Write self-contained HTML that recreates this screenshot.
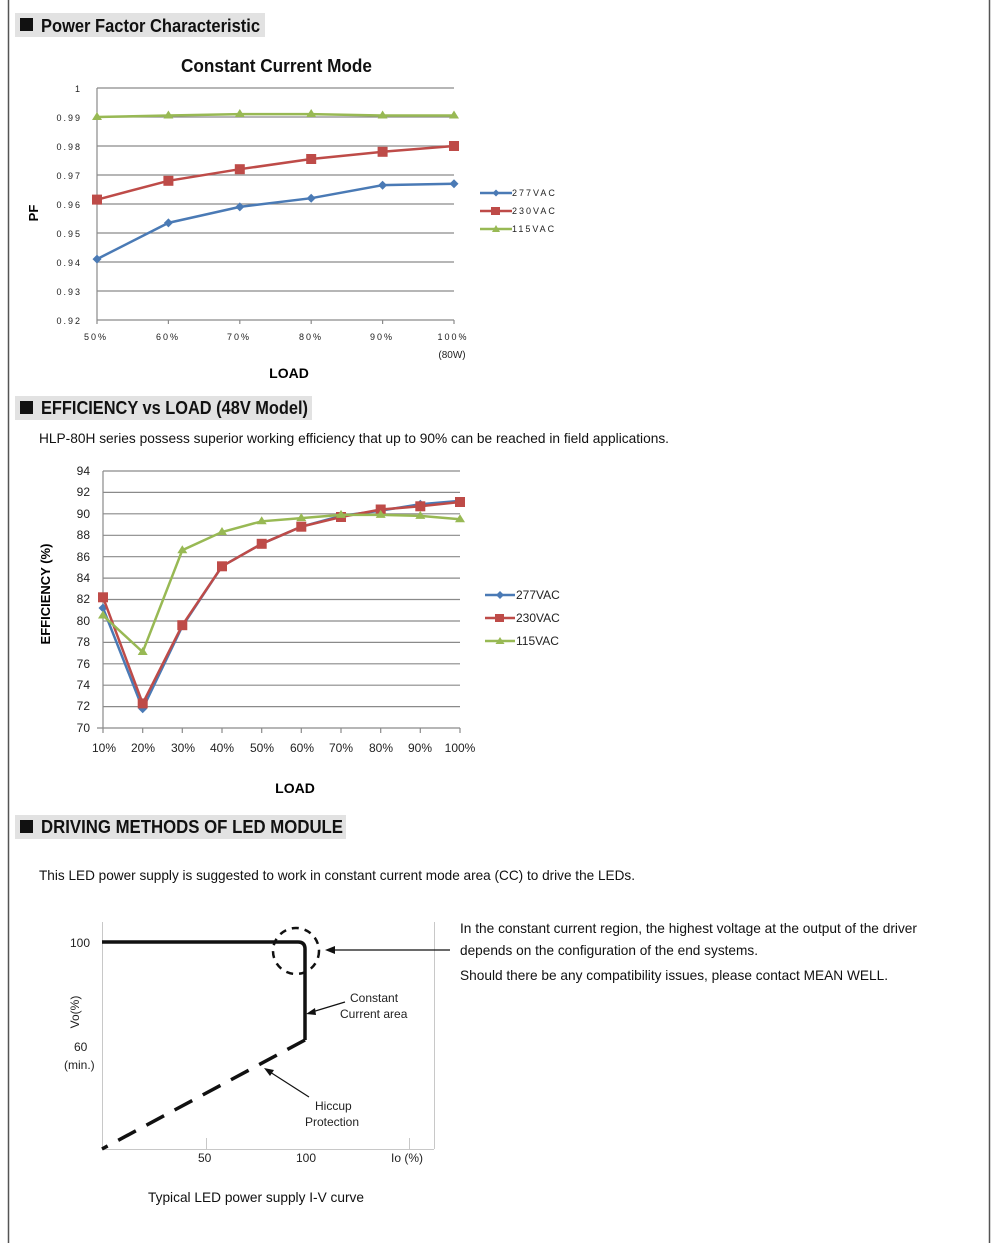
<!DOCTYPE html>
<html><head><meta charset="utf-8"><style>
body{margin:0;background:#fff;}
svg{display:block;font-family:"Liberation Sans",sans-serif;}
.hd{font-weight:bold;font-size:18px;fill:#111;}
.t{font-size:14px;fill:#111;}
.sp{font-size:9px;letter-spacing:2px;fill:#222;}
.g{stroke:#8a8a8a;stroke-width:1.2;}
</style></head><body>
<svg width="1000" height="1243" viewBox="0 0 1000 1243">
<line x1="8.5" y1="0" x2="8.5" y2="1243" stroke="#555" stroke-width="1.5"/>
<line x1="989.5" y1="0" x2="989.5" y2="1243" stroke="#555" stroke-width="1.5"/>

<rect x="15" y="13" width="250" height="24" fill="#e2e2e2"/>
<rect x="20" y="18" width="13" height="13" fill="#111"/>
<text x="41" y="32" class="hd" textLength="219" lengthAdjust="spacingAndGlyphs">Power Factor Characteristic</text>
<text x="181" y="72" class="hd" textLength="191" lengthAdjust="spacingAndGlyphs">Constant Current Mode</text>

<g class="g">
<line x1="97" y1="88" x2="454" y2="88"/><line x1="97" y1="117" x2="454" y2="117"/><line x1="97" y1="146" x2="454" y2="146"/><line x1="97" y1="175" x2="454" y2="175"/><line x1="97" y1="204" x2="454" y2="204"/><line x1="97" y1="233" x2="454" y2="233"/><line x1="97" y1="262" x2="454" y2="262"/><line x1="97" y1="291" x2="454" y2="291"/><line x1="97" y1="320" x2="454" y2="320"/>
<line x1="97" y1="88" x2="97" y2="324"/>
<line x1="168.4" y1="320" x2="168.4" y2="324"/><line x1="239.8" y1="320" x2="239.8" y2="324"/><line x1="311.2" y1="320" x2="311.2" y2="324"/><line x1="382.6" y1="320" x2="382.6" y2="324"/><line x1="454" y1="320" x2="454" y2="324"/>
</g>
<g class="sp" text-anchor="end">
<text x="82" y="92">1</text><text x="82" y="121">0.99</text><text x="82" y="150">0.98</text><text x="82" y="179">0.97</text><text x="82" y="208">0.96</text><text x="82" y="237">0.95</text><text x="82" y="266">0.94</text><text x="82" y="295">0.93</text><text x="82" y="324">0.92</text>
</g>
<g class="sp" text-anchor="middle">
<text x="96" y="340">50%</text><text x="168" y="340">60%</text><text x="239" y="340">70%</text><text x="311" y="340">80%</text><text x="382" y="340">90%</text><text x="453" y="340">100%</text>
</g>
<text x="452" y="358" text-anchor="middle" style="font-size:10px;fill:#222">(80W)</text>
<text x="289" y="378" text-anchor="middle" style="font-weight:bold;font-size:14px">LOAD</text>
<text x="38" y="213" text-anchor="middle" transform="rotate(-90 38 213)" style="font-weight:bold;font-size:13px">PF</text>

<polyline fill="none" stroke="#4a7ab5" stroke-width="2.5" points="97,259.1 168.4,222.85 239.8,206.9 311.2,198.2 382.6,185.15 454,183.7"/>
<g fill="#4a7ab5">
<path d="M97,254.6l4.5,4.5l-4.5,4.5l-4.5,-4.5z"/><path d="M168.4,218.4l4.5,4.5l-4.5,4.5l-4.5,-4.5z"/><path d="M239.8,202.4l4.5,4.5l-4.5,4.5l-4.5,-4.5z"/><path d="M311.2,193.7l4.5,4.5l-4.5,4.5l-4.5,-4.5z"/><path d="M382.6,180.7l4.5,4.5l-4.5,4.5l-4.5,-4.5z"/><path d="M454,179.2l4.5,4.5l-4.5,4.5l-4.5,-4.5z"/>
</g>
<polyline fill="none" stroke="#be4b48" stroke-width="2.5" points="97,199.65 168.4,180.8 239.8,169.2 311.2,159.05 382.6,151.8 454,146"/>
<g fill="#be4b48">
<rect x="92" y="194.6" width="10" height="10"/><rect x="163.4" y="175.8" width="10" height="10"/><rect x="234.8" y="164.2" width="10" height="10"/><rect x="306.2" y="154" width="10" height="10"/><rect x="377.6" y="146.8" width="10" height="10"/><rect x="449" y="141" width="10" height="10"/>
</g>
<polyline fill="none" stroke="#98b954" stroke-width="2.5" points="97,117 168.4,115.55 239.8,114.1 311.2,114.1 382.6,115.55 454,115.55"/>
<g fill="#98b954">
<path d="M97,112l5,8h-10z"/><path d="M168.4,110.5l5,8h-10z"/><path d="M239.8,109l5,8h-10z"/><path d="M311.2,109l5,8h-10z"/><path d="M382.6,110.5l5,8h-10z"/><path d="M454,110.5l5,8h-10z"/>
</g>
<line x1="480" y1="193" x2="512" y2="193" stroke="#4a7ab5" stroke-width="2.5"/><path d="M496,189.5l3.5,3.5l-3.5,3.5l-3.5,-3.5z" fill="#4a7ab5"/>
<line x1="480" y1="211" x2="512" y2="211" stroke="#be4b48" stroke-width="2.5"/><rect x="491" y="207" width="9" height="8" fill="#be4b48"/>
<line x1="480" y1="229" x2="512" y2="229" stroke="#98b954" stroke-width="2.5"/><path d="M496,225l4,7h-8z" fill="#98b954"/>
<g class="sp"><text x="512" y="196">277VAC</text><text x="512" y="214">230VAC</text><text x="512" y="232">115VAC</text></g>

<rect x="15" y="396" width="297" height="24" fill="#e2e2e2"/>
<rect x="20" y="401" width="13" height="13" fill="#111"/>
<text x="41" y="414" class="hd" textLength="267" lengthAdjust="spacingAndGlyphs">EFFICIENCY vs LOAD (48V Model)</text>
<text x="39" y="443" class="t" textLength="630" lengthAdjust="spacingAndGlyphs">HLP-80H series possess superior working efficiency that up to 90% can be reached in field applications.</text>

<g class="g">
<line x1="103" y1="471" x2="460" y2="471"/><line x1="103" y1="492.4" x2="460" y2="492.4"/><line x1="103" y1="513.8" x2="460" y2="513.8"/><line x1="103" y1="535.3" x2="460" y2="535.3"/><line x1="103" y1="556.7" x2="460" y2="556.7"/><line x1="103" y1="578.1" x2="460" y2="578.1"/><line x1="103" y1="599.5" x2="460" y2="599.5"/><line x1="103" y1="621" x2="460" y2="621"/><line x1="103" y1="642.4" x2="460" y2="642.4"/><line x1="103" y1="663.8" x2="460" y2="663.8"/><line x1="103" y1="685.2" x2="460" y2="685.2"/><line x1="103" y1="706.6" x2="460" y2="706.6"/><line x1="97" y1="728" x2="460" y2="728"/>
<line x1="103" y1="471" x2="103" y2="733"/>
<line x1="142.7" y1="728" x2="142.7" y2="733"/><line x1="182.3" y1="728" x2="182.3" y2="733"/><line x1="222" y1="728" x2="222" y2="733"/><line x1="261.7" y1="728" x2="261.7" y2="733"/><line x1="301.3" y1="728" x2="301.3" y2="733"/><line x1="341" y1="728" x2="341" y2="733"/><line x1="380.7" y1="728" x2="380.7" y2="733"/><line x1="420.3" y1="728" x2="420.3" y2="733"/><line x1="460" y1="728" x2="460" y2="733"/>
</g>
<g style="font-size:12px;fill:#222" text-anchor="end">
<text x="90" y="475">94</text><text x="90" y="496">92</text><text x="90" y="518">90</text><text x="90" y="539">88</text><text x="90" y="561">86</text><text x="90" y="582">84</text><text x="90" y="603">82</text><text x="90" y="625">80</text><text x="90" y="646">78</text><text x="90" y="668">76</text><text x="90" y="689">74</text><text x="90" y="710">72</text><text x="90" y="732">70</text>
</g>
<g style="font-size:12px;fill:#222" text-anchor="middle">
<text x="104" y="752">10%</text><text x="143" y="752">20%</text><text x="183" y="752">30%</text><text x="222" y="752">40%</text><text x="262" y="752">50%</text><text x="302" y="752">60%</text><text x="341" y="752">70%</text><text x="381" y="752">80%</text><text x="420" y="752">90%</text><text x="460" y="752">100%</text>
</g>
<text x="295" y="793" text-anchor="middle" style="font-weight:bold;font-size:14px">LOAD</text>
<text x="50" y="594" text-anchor="middle" transform="rotate(-90 50 594)" style="font-weight:bold;font-size:13px">EFFICIENCY (%)</text>

<polyline fill="none" stroke="#4a7ab5" stroke-width="2.5" points="103,608 142.7,708.7 182.3,626.3 222,566.3 261.7,543.8 301.3,526.7 341,515.9 380.7,510.6 420.3,504.2 460,500.9"/>
<g fill="#4a7ab5"><path d="M103,603.5l4.5,4.5l-4.5,4.5l-4.5,-4.5z"/><path d="M142.7,704.2l4.5,4.5l-4.5,4.5l-4.5,-4.5z"/><path d="M420.3,499.7l4.5,4.5l-4.5,4.5l-4.5,-4.5z"/></g>
<polyline fill="none" stroke="#be4b48" stroke-width="2.5" points="103,597.3 142.7,703.4 182.3,625.2 222,566.3 261.7,543.8 301.3,526.7 341,517 380.7,509.5 420.3,506.3 460,502"/>
<g fill="#be4b48">
<rect x="98" y="592.3" width="10" height="10"/><rect x="137.7" y="698.4" width="10" height="10"/><rect x="177.3" y="620.2" width="10" height="10"/><rect x="217" y="561.3" width="10" height="10"/><rect x="256.7" y="538.8" width="10" height="10"/><rect x="296.3" y="521.7" width="10" height="10"/><rect x="336" y="512" width="10" height="10"/><rect x="375.7" y="504.5" width="10" height="10"/><rect x="415.3" y="501.3" width="10" height="10"/><rect x="455" y="497" width="10" height="10"/>
</g>
<polyline fill="none" stroke="#98b954" stroke-width="2.5" points="103,615.5 142.7,652 182.3,550.2 222,532 261.7,521.3 301.3,518.1 341,514.9 380.7,514.9 420.3,515.9 460,519.2"/>
<g fill="#98b954">
<path d="M103,610.5l5,8h-10z"/><path d="M142.7,647l5,8h-10z"/><path d="M182.3,545.2l5,8h-10z"/><path d="M222,527l5,8h-10z"/><path d="M261.7,516.3l5,8h-10z"/><path d="M301.3,513.1l5,8h-10z"/><path d="M341,509.9l5,8h-10z"/><path d="M380.7,509.9l5,8h-10z"/><path d="M420.3,510.9l5,8h-10z"/><path d="M460,514.2l5,8h-10z"/>
</g>
<line x1="485" y1="595" x2="515" y2="595" stroke="#4a7ab5" stroke-width="2.5"/><path d="M500,591l4,4l-4,4l-4,-4z" fill="#4a7ab5"/>
<line x1="485" y1="618" x2="515" y2="618" stroke="#be4b48" stroke-width="2.5"/><rect x="495" y="614" width="9" height="8" fill="#be4b48"/>
<line x1="485" y1="641" x2="515" y2="641" stroke="#98b954" stroke-width="2.5"/><path d="M500,637l4.5,7h-9z" fill="#98b954"/>
<g style="font-size:12px;fill:#222"><text x="516" y="599">277VAC</text><text x="516" y="622">230VAC</text><text x="516" y="645">115VAC</text></g>

<rect x="15" y="815" width="331" height="24" fill="#e2e2e2"/>
<rect x="20" y="820" width="13" height="13" fill="#111"/>
<text x="41" y="833" class="hd" textLength="302" lengthAdjust="spacingAndGlyphs">DRIVING METHODS OF LED MODULE</text>
<text x="39" y="880" class="t" textLength="596" lengthAdjust="spacingAndGlyphs">This LED power supply is suggested to work in constant current mode area (CC) to drive the LEDs.</text>

<g stroke="#c8c8c8" stroke-width="1" fill="none">
<line x1="102.5" y1="922" x2="102.5" y2="1149"/><line x1="102" y1="1149.5" x2="434" y2="1149.5"/><line x1="434.5" y1="922" x2="434.5" y2="1149"/>
<line x1="206.5" y1="1138" x2="206.5" y2="1149"/><line x1="409.5" y1="1138" x2="409.5" y2="1149"/>
</g>
<path d="M102,942 H298 Q305,942 305,949 V1040" fill="none" stroke="#111" stroke-width="3.5"/>
<line x1="305" y1="1040" x2="102" y2="1149" stroke="#111" stroke-width="3.5" stroke-dasharray="20,12"/>
<circle cx="296" cy="951" r="23" fill="none" stroke="#111" stroke-width="2.5" stroke-dasharray="7,6"/>
<line x1="450" y1="950" x2="332" y2="950" stroke="#111" stroke-width="1.2"/><path d="M325,950l10,-4v8z" fill="#111"/>
<line x1="345" y1="1002" x2="312" y2="1012" stroke="#111" stroke-width="1.2"/><path d="M306,1014l9,-6l1,7z" fill="#111"/>
<line x1="309" y1="1097" x2="270" y2="1072" stroke="#111" stroke-width="1.2"/><path d="M264,1068l10,2l-4,6z" fill="#111"/>
<g style="font-size:12px;fill:#222">
<text x="70" y="947">100</text><text x="74" y="1051">60</text><text x="64" y="1069">(min.)</text>
<text x="350" y="1002">Constant</text><text x="340" y="1018">Current area</text>
<text x="315" y="1110">Hiccup</text><text x="305" y="1126">Protection</text>
<text x="198" y="1162">50</text><text x="296" y="1162">100</text><text x="391" y="1162">Io (%)</text>
<text x="79" y="1012" text-anchor="middle" transform="rotate(-90 79 1012)">Vo(%)</text>
</g>
<text x="148" y="1202" class="t" textLength="216" lengthAdjust="spacingAndGlyphs">Typical LED power supply I-V curve</text>
<g class="t">
<text x="460" y="933" textLength="457" lengthAdjust="spacingAndGlyphs">In the constant current region, the highest voltage at the output of the driver</text>
<text x="460" y="955" textLength="298" lengthAdjust="spacingAndGlyphs">depends on the configuration of the end systems.</text>
<text x="460" y="980" textLength="428" lengthAdjust="spacingAndGlyphs">Should there be any compatibility issues, please contact MEAN WELL.</text>
</g>
</svg>
</body></html>
